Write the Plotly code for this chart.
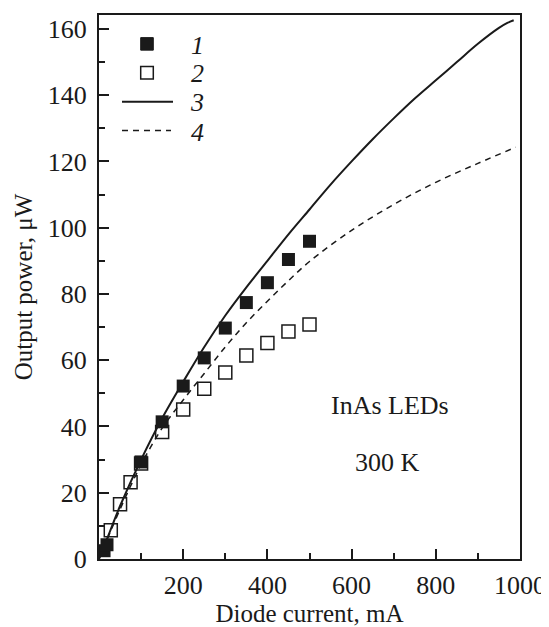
import plotly.graph_objects as go

# Series 1: measured (filled squares)
cur_filled = [12, 19, 100, 150, 200, 250, 300, 350, 400, 450, 500]
pow_filled = [2.5, 4.3, 29.3, 41.4, 52.2, 60.7, 69.7, 77.4, 83.4, 90.4, 95.9]

# Series 2: measured (open squares)
cur_open = [28, 50, 75, 100, 150, 200, 250, 300, 350, 400, 450, 500]
pow_open = [8.7, 16.5, 23.2, 28.8, 38.3, 45.1, 51.4, 56.3, 61.4, 65.2, 68.7, 70.8]

# Series 3: calculated (solid line)
cur_calc3 = [0, 25, 50, 100, 150, 200, 250, 300, 350, 400, 450, 500, 550, 600, 650,
             700, 750, 800, 850, 900, 950, 970, 985]
pow_calc3 = [0, 8, 16, 30, 42.5, 53.5, 64, 73.5, 82, 90, 98, 105.5, 113, 120, 126.7,
             133, 139, 144.5, 150, 155.5, 160.3, 161.8, 162.6]

# Series 4: calculated (dashed line)
cur_calc4 = [0, 50, 100, 150, 200, 250, 300, 350, 400, 450, 500, 600, 700, 800, 900, 990]
pow_calc4 = [0, 15, 28.5, 39.5, 48, 56, 64, 71.3, 77.8, 84, 89.8, 99.2, 107, 113.7, 119.4, 124.3]

legend_labels = ["1", "2", "3", "4"]
x_ticks = [200, 400, 600, 800, 1000]
y_ticks = [0, 20, 40, 60, 80, 100, 120, 140, 160]

FONT = "Liberation Serif"
INK = "#1a1a1a"

fig = go.Figure()
fig.add_trace(go.Scatter(x=cur_calc3, y=pow_calc3, mode="lines",
                         line=dict(color=INK, width=2), line_shape="spline",
                         showlegend=False))
fig.add_trace(go.Scatter(x=cur_calc4, y=pow_calc4, mode="lines",
                         line=dict(color=INK, width=1.5, dash="6px,5px"), line_shape="spline",
                         showlegend=False))
fig.add_trace(go.Scatter(x=cur_open, y=pow_open, mode="markers",
                         marker=dict(symbol="square-open", size=13, color=INK,
                                     line=dict(width=1.5, color=INK)),
                         showlegend=False))
fig.add_trace(go.Scatter(x=cur_filled, y=pow_filled, mode="markers",
                         marker=dict(symbol="square", size=13, color=INK),
                         showlegend=False))

# Plot-area box as seen in the reference (page pixels)
L, R, T, B = 99, 520, 13, 559
W, H = R - L, B - T
OFF = 8  # page body margin offset
def px(x):
    return (x - L) / W
def py(y):
    return (B - y) / H

shapes = []
hs = 6.3
shapes.append(dict(type="rect", xref="paper", yref="paper",
                   x0=px(147 - hs), x1=px(147 + hs), y0=py(42 + hs), y1=py(42 - hs),
                   fillcolor=INK, line=dict(color=INK, width=1)))
shapes.append(dict(type="rect", xref="paper", yref="paper",
                   x0=px(147 - hs), x1=px(147 + hs), y0=py(71 + hs), y1=py(71 - hs),
                   fillcolor="white", line=dict(color=INK, width=1.5)))
shapes.append(dict(type="line", xref="paper", yref="paper",
                   x0=px(122), x1=px(173), y0=py(100), y1=py(100),
                   line=dict(color=INK, width=2)))
shapes.append(dict(type="line", xref="paper", yref="paper",
                   x0=px(122), x1=px(171), y0=py(129), y1=py(129),
                   line=dict(color=INK, width=1.5, dash="6px,5px")))

annotations = []
for lab, yy in zip(legend_labels, [44, 72, 101, 131]):
    annotations.append(dict(text=f"<i>{lab}</i>", xref="paper", yref="paper",
                            x=px(197), y=py(yy), xanchor="center", yanchor="middle",
                            showarrow=False, font=dict(family=FONT, size=26, color=INK)))
annotations.append(dict(text="InAs LEDs", x=691, y=46.3, xref="x", yref="y",
                        showarrow=False, xanchor="center", yanchor="middle",
                        font=dict(family=FONT, size=26, color=INK)))
annotations.append(dict(text="300 K", x=686, y=29.2, xref="x", yref="y",
                        showarrow=False, xanchor="center", yanchor="middle",
                        font=dict(family=FONT, size=26, color=INK)))

fig.update_layout(
    width=549, height=627,
    margin=dict(l=L - OFF, r=549 - R + OFF, t=T - OFF, b=627 - B + OFF),
    paper_bgcolor="white", plot_bgcolor="white",
    font=dict(family=FONT, size=25, color=INK),
    shapes=shapes, annotations=annotations,
    showlegend=False,
)
fig.update_xaxes(
    range=[0, 1000], tickvals=x_ticks, ticktext=[str(v) for v in x_ticks],
    ticks="inside", ticklen=10, tickwidth=1.5, tickcolor=INK,
    minor=dict(dtick=100, tick0=0, ticks="inside", ticklen=6, tickwidth=1.5, tickcolor=INK),
    showline=True, linewidth=2, linecolor=INK, mirror=True,
    showgrid=False, zeroline=False, ticklabelstandoff=2,
    tickfont=dict(family=FONT, size=26, color=INK),
    title=dict(text="Diode current, mA", font=dict(family=FONT, size=25, color=INK), standoff=0),
)
fig.update_yaxes(
    range=[0, 164.2], tickvals=y_ticks, ticktext=[str(v) for v in y_ticks],
    ticks="inside", ticklen=10, tickwidth=1.5, tickcolor=INK,
    minor=dict(dtick=10, tick0=0, ticks="inside", ticklen=6, tickwidth=1.5, tickcolor=INK),
    showline=True, linewidth=2, linecolor=INK, mirror=True,
    showgrid=False, zeroline=False, ticklabelstandoff=5,
    tickfont=dict(family=FONT, size=26, color=INK),
    title=dict(text="Output power, μW", font=dict(family=FONT, size=25, color=INK), standoff=8),
)

fig.write_html("out.html")
